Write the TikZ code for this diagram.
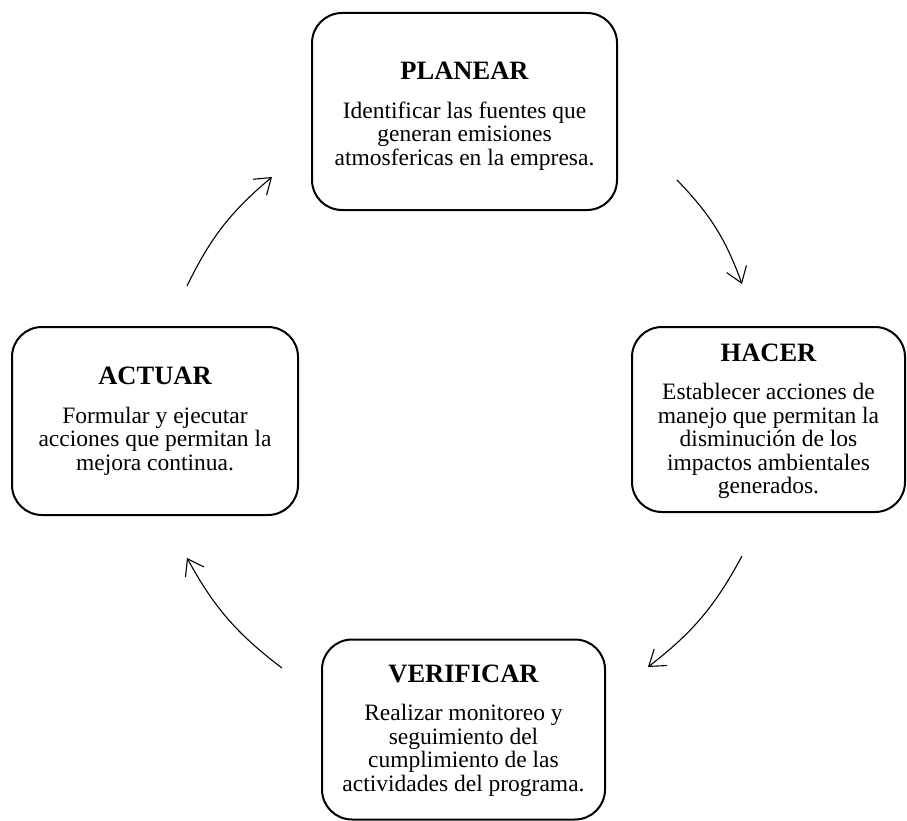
\documentclass[tikz,border=0pt]{standalone}
\usepackage{fontspec}
\setmainfont{Liberation Serif}
\usetikzlibrary{arrows.meta}

\newcommand{\headfont}{\fontsize{26.5pt}{30pt}\selectfont\bfseries}

\tikzset{
  stagebox/.style={draw=black, line width=2pt, rounded corners=30pt, inner sep=0pt},
  stagetext/.style={align=center, inner sep=0pt,
    font=\fontsize{23.5pt}{23.5pt}\selectfont},
  cycle arrow/.style={line width=1.1pt,
    -{Straight Barb[length=15pt,width=21pt,line width=1.1pt]}, bend left=12}
}

\begin{document}
\begin{tikzpicture}[x=1pt,y=-1pt]
  \useasboundingbox (0,0) rectangle (907,821);

  % the four stages of the cycle: frames
  \node[stagebox, minimum width=305pt, minimum height=197pt] (plan) at (464.5,111.5) {};
  \node[stagebox, minimum width=273pt, minimum height=185pt] (do) at (768.5,419.5) {};
  \node[stagebox, minimum width=283pt, minimum height=180pt] (check) at (463.5,729.5) {};
  \node[stagebox, minimum width=286pt, minimum height=188pt] (act) at (155,421) {};

  % the four stages of the cycle: texts
  \node[stagetext] (plan-text) at ([yshift=-5pt]plan.center)
    {{\headfont PLANEAR}\\[15pt]
     Identificar las fuentes que\\generan emisiones\\atmosfericas en la empresa.};
  \node[stagetext] (do-text) at ([yshift=-2pt]do.center)
    {{\headfont HACER}\\[15pt]
     Establecer acciones de\\manejo que permitan la\\disminución de los\\impactos ambientales\\generados.};
  \node[stagetext] (check-text) at ([yshift=-1pt]check.center)
    {{\headfont VERIFICAR}\\[15pt]
     Realizar monitoreo y\\seguimiento del\\cumplimiento de las\\actividades del programa.};
  \node[stagetext] (act-text) at (act.center)
    {{\headfont ACTUAR}\\[15pt]
     Formular y ejecutar\\acciones que permitan la\\mejora continua.};

  % ends of the curved arrows between the stages
  \coordinate (a1s) at (677,180);  \coordinate (a1e) at (742,284);
  \coordinate (a2s) at (742,556);  \coordinate (a2e) at (648,667);
  \coordinate (a3s) at (282,668);  \coordinate (a3e) at (187,558);
  \coordinate (a4s) at (187,286);  \coordinate (a4e) at (272,177);

  \draw[cycle arrow] (a1s) to (a1e);
  \draw[cycle arrow] (a2s) to (a2e);
  \draw[cycle arrow] (a3s) to (a3e);
  \draw[cycle arrow] (a4s) to (a4e);
\end{tikzpicture}
\end{document}
